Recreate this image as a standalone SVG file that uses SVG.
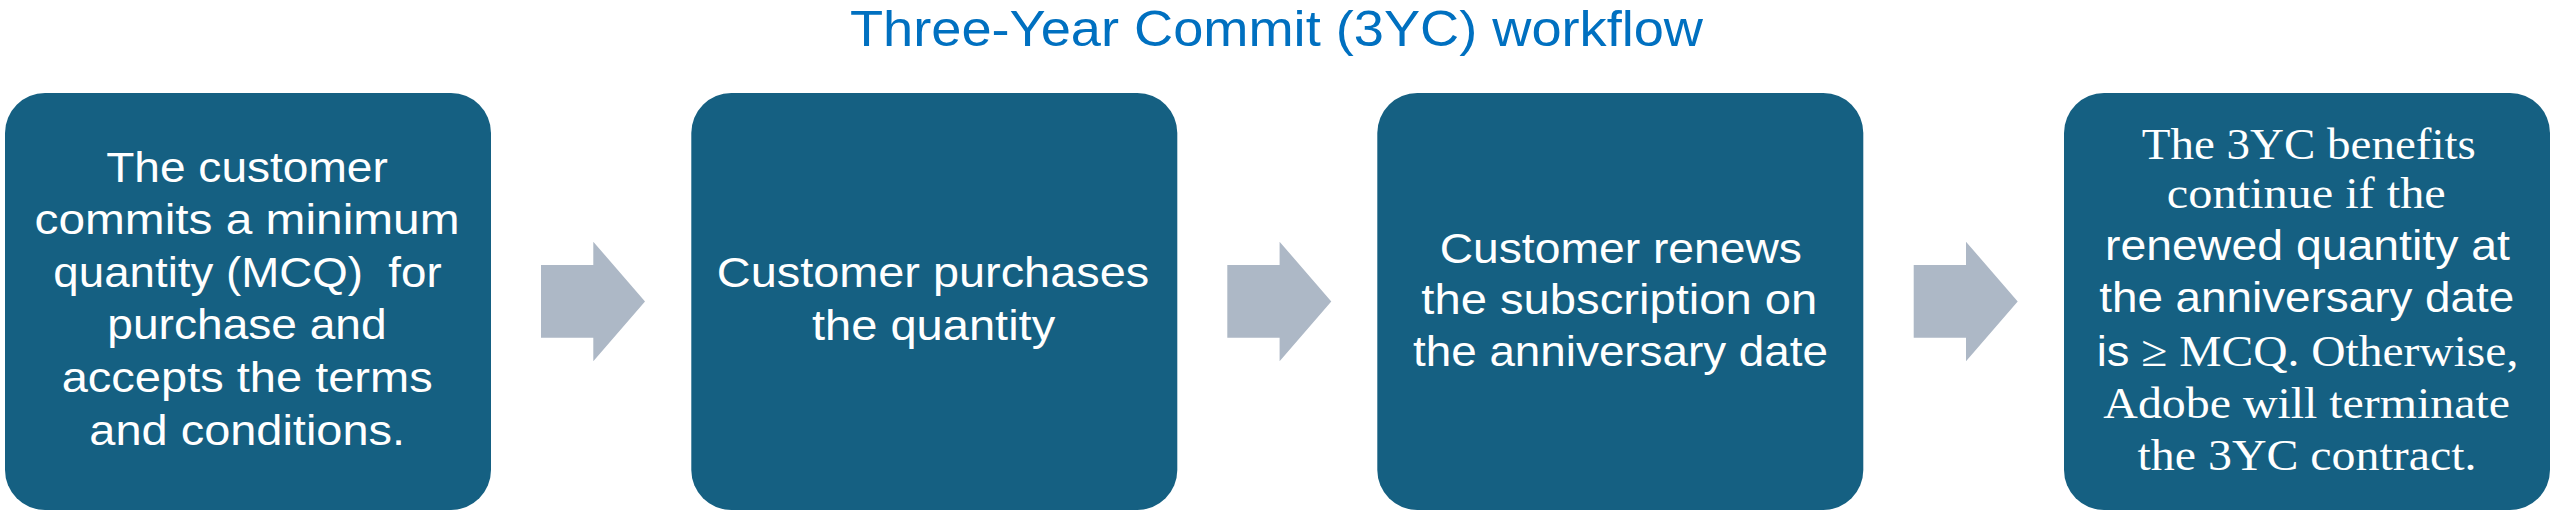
<svg xmlns="http://www.w3.org/2000/svg" xmlns:xlink="http://www.w3.org/1999/xlink" width="2560" height="524" viewBox="0 0 2560 524">
  <style>
    .box { fill: #156082; }
    .arrow { fill: #ADB8C6; }
    .title { font-family: "Liberation Sans", Arial, sans-serif; font-size: 50px; fill: #0070C0; text-anchor: middle; }
    .sans { font-family: "Liberation Sans", Arial, sans-serif; font-size: 42px; fill: #FFFFFF; text-anchor: middle; }
    .serif { font-family: "Liberation Serif", "Times New Roman", serif; font-size: 44px; fill: #FFFFFF; text-anchor: middle; }
    .ser { font-family: "Liberation Serif", "Times New Roman", serif; }
  </style>
  <defs>
    <polygon id="blockArrow" points="541,265 593.3,265 593.3,241.7 645,301.5 593.3,361.3 593.3,337.7 541,337.7"/>
  </defs>
  <rect width="2560" height="524" fill="#FFFFFF"/>

  <g id="title">
    <text class="title" x="1276.5" y="46" textLength="853" lengthAdjust="spacingAndGlyphs">Three-Year Commit (3YC) workflow</text>
  </g>

  <g id="connectors">
    <use xlink:href="#blockArrow" href="#blockArrow" class="arrow"/>
    <use xlink:href="#blockArrow" href="#blockArrow" class="arrow" transform="translate(686.3,0)"/>
    <use xlink:href="#blockArrow" href="#blockArrow" class="arrow" transform="translate(1372.7,0)"/>
  </g>

  <g id="node1">
    <rect class="box" x="5" y="93" width="486" height="417" rx="40" ry="40"/>
    <text class="sans" x="247" y="182.3" textLength="281.7" lengthAdjust="spacingAndGlyphs">The customer</text>
    <text class="sans" x="247" y="234.3" textLength="425" lengthAdjust="spacingAndGlyphs">commits a minimum</text>
    <text class="sans" x="247.5" y="286.7" textLength="388.3" lengthAdjust="spacingAndGlyphs" xml:space="preserve">quantity (MCQ)  for</text>
    <text class="sans" x="247" y="339.3" textLength="279.3" lengthAdjust="spacingAndGlyphs">purchase and</text>
    <text class="sans" x="247.2" y="391.7" textLength="371" lengthAdjust="spacingAndGlyphs">accepts the terms</text>
    <text class="sans" x="247.2" y="445" textLength="315.7" lengthAdjust="spacingAndGlyphs">and conditions.</text>
  </g>

  <g id="node2">
    <rect class="box" x="691.3" y="93" width="486" height="417" rx="40" ry="40"/>
    <text class="sans" x="933" y="287.3" textLength="432.3" lengthAdjust="spacingAndGlyphs">Customer purchases</text>
    <text class="sans" x="933.6" y="340" textLength="243.3" lengthAdjust="spacingAndGlyphs">the quantity</text>
  </g>

  <g id="node3">
    <rect class="box" x="1377.3" y="93" width="486" height="417" rx="40" ry="40"/>
    <text class="sans" x="1620.8" y="262.7" textLength="362.3" lengthAdjust="spacingAndGlyphs">Customer renews</text>
    <text class="sans" x="1619.3" y="314" textLength="396" lengthAdjust="spacingAndGlyphs">the subscription on</text>
    <text class="sans" x="1620.5" y="366" textLength="415" lengthAdjust="spacingAndGlyphs">the anniversary date</text>
  </g>

  <g id="node4">
    <rect class="box" x="2064" y="93" width="486" height="417" rx="40" ry="40"/>
    <text class="serif" x="2308.8" y="159" textLength="334" lengthAdjust="spacingAndGlyphs">The 3YC benefits</text>
    <text class="serif" x="2306.3" y="208.3" textLength="279" lengthAdjust="spacingAndGlyphs">continue if the</text>
    <text class="sans" x="2307.5" y="260" textLength="405" lengthAdjust="spacingAndGlyphs">renewed quantity at</text>
    <text class="sans" x="2306.7" y="311.7" textLength="415" lengthAdjust="spacingAndGlyphs">the anniversary date</text>
    <text class="sans" x="2307.5" y="366" textLength="421.6" lengthAdjust="spacingAndGlyphs">is<tspan class="ser" font-size="44"> ≥ MCQ. Otherwise,</tspan></text>
    <text class="serif" x="2306.7" y="418" textLength="406.7" lengthAdjust="spacingAndGlyphs">Adobe will terminate</text>
    <text class="serif" x="2307" y="470" textLength="339" lengthAdjust="spacingAndGlyphs">the 3YC contract.</text>
  </g>
</svg>
